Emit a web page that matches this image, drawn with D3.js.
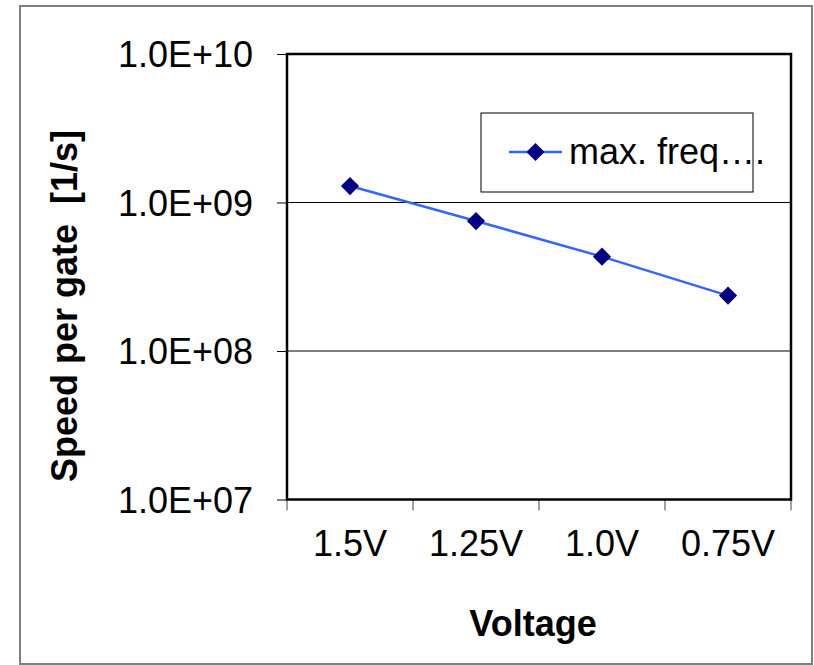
<!DOCTYPE html>
<html>
<head>
<meta charset="utf-8">
<script src="https://cdn.jsdelivr.net/npm/d3@7"></script>
<style>
  body { margin: 0; background: #fff; }
  svg { display: block; font-family: "Liberation Sans", Arial, sans-serif; }
</style>
</head>
<body>
<svg width="814" height="665"></svg>
<script>
// chart data
const categories = ['1.5V', '1.25V', '1.0V', '0.75V']
const maxFreq = [1.29e9, 7.5e8, 4.32e8, 2.36e8]
const yTicks = [1e7, 1e8, 1e9, 1e10]
const seriesName = 'max. freq….'

const svg = d3.select('svg')

let plotLeft = 287, plotRight = 791, plotTop = 54, plotBottom = 499.5

// outer frame
svg.append('rect')
    .attr('x', 20).attr('y', 6)
    .attr('width', 792).attr('height', 658)
    .attr('fill', 'none')
    .attr('stroke', '#808080')
    .attr('stroke-width', 2)

let x = d3.scaleBand()
    .domain(categories)
    .range([plotLeft, plotRight])

let y = d3.scaleLog()
    .domain([1e7, 1e10])
    .range([plotBottom, plotTop])

// gridlines
svg.append('g')
  .selectAll('line')
  .data(yTicks.slice(1, 3))
  .join('line')
    .attr('x1', plotLeft).attr('x2', plotRight)
    .attr('y1', d => y(d)).attr('y2', d => y(d))
    .attr('stroke', '#000')
    .attr('stroke-width', 1)

// y axis
let yAxis = svg.append('g')
    .attr('transform', `translate(${plotLeft},0)`)
    .call(d3.axisLeft(y).tickValues(yTicks).tickSize(10).tickPadding(24)
      .tickFormat(d => '1.0E+' + String(Math.round(Math.log10(d))).padStart(2, '0')))
yAxis.select('.domain').remove()
yAxis.selectAll('.tick line').attr('stroke', '#000')
yAxis.selectAll('.tick text')
    .attr('font-size', 36)
    .attr('font-family', '"Liberation Sans", Arial, sans-serif')
    .attr('fill', '#000')
    .attr('dy', '0.36em')

// x axis ticks at band edges
svg.append('g')
  .selectAll('line')
  .data(d3.range(categories.length + 1))
  .join('line')
    .attr('x1', i => plotLeft + i * x.step()).attr('x2', i => plotLeft + i * x.step())
    .attr('y1', plotBottom).attr('y2', plotBottom + 11)
    .attr('stroke', '#444')
    .attr('stroke-width', 1)

svg.append('g')
  .selectAll('text')
  .data(categories)
  .join('text')
    .attr('x', d => x(d) + x.bandwidth() / 2)
    .attr('y', 556)
    .attr('text-anchor', 'middle')
    .attr('font-size', 36)
    .text(d => d)

// plot border
svg.append('rect')
    .attr('x', plotLeft).attr('y', plotTop)
    .attr('width', plotRight - plotLeft).attr('height', plotBottom - plotTop)
    .attr('fill', 'none')
    .attr('stroke', '#000')
    .attr('stroke-width', 2.5)

// axis titles
svg.append('text')
    .attr('x', 533).attr('y', 636)
    .attr('text-anchor', 'middle')
    .attr('font-size', 36)
    .attr('font-weight', 'bold')
    .text('Voltage')

svg.append('text')
    .attr('transform', 'translate(77,306) rotate(-90)')
    .attr('text-anchor', 'middle')
    .attr('font-size', 36)
    .attr('font-weight', 'bold')
    .style('white-space', 'pre')
    .text('Speed per gate  [1/s]')

// series
let pts = categories.map((c, i) => [x(c) + x.bandwidth() / 2, y(maxFreq[i])])

svg.append('path')
    .attr('d', d3.line()(pts))
    .attr('fill', 'none')
    .attr('stroke', '#3366ff')
    .attr('stroke-width', 2.5)

let diamond = d3.symbol().type(d3.symbolDiamond2).size(210)

svg.append('g')
  .selectAll('path')
  .data(pts)
  .join('path')
    .attr('transform', d => `translate(${d[0]},${d[1]})`)
    .attr('d', diamond)
    .attr('fill', '#000080')

// legend
let lg = svg.append('g')
lg.append('rect')
    .attr('x', 481).attr('y', 113)
    .attr('width', 272).attr('height', 79)
    .attr('fill', '#fff')
    .attr('stroke', '#000')
    .attr('stroke-width', 1)
lg.append('line')
    .attr('x1', 509).attr('x2', 562)
    .attr('y1', 152).attr('y2', 152)
    .attr('stroke', '#3366ff')
    .attr('stroke-width', 2.5)
lg.append('path')
    .attr('transform', 'translate(535.5,152)')
    .attr('d', diamond)
    .attr('fill', '#000080')
lg.append('text')
    .attr('x', 569).attr('y', 164)
    .attr('font-size', 36)
    .text(seriesName)
</script>
</body>
</html>
